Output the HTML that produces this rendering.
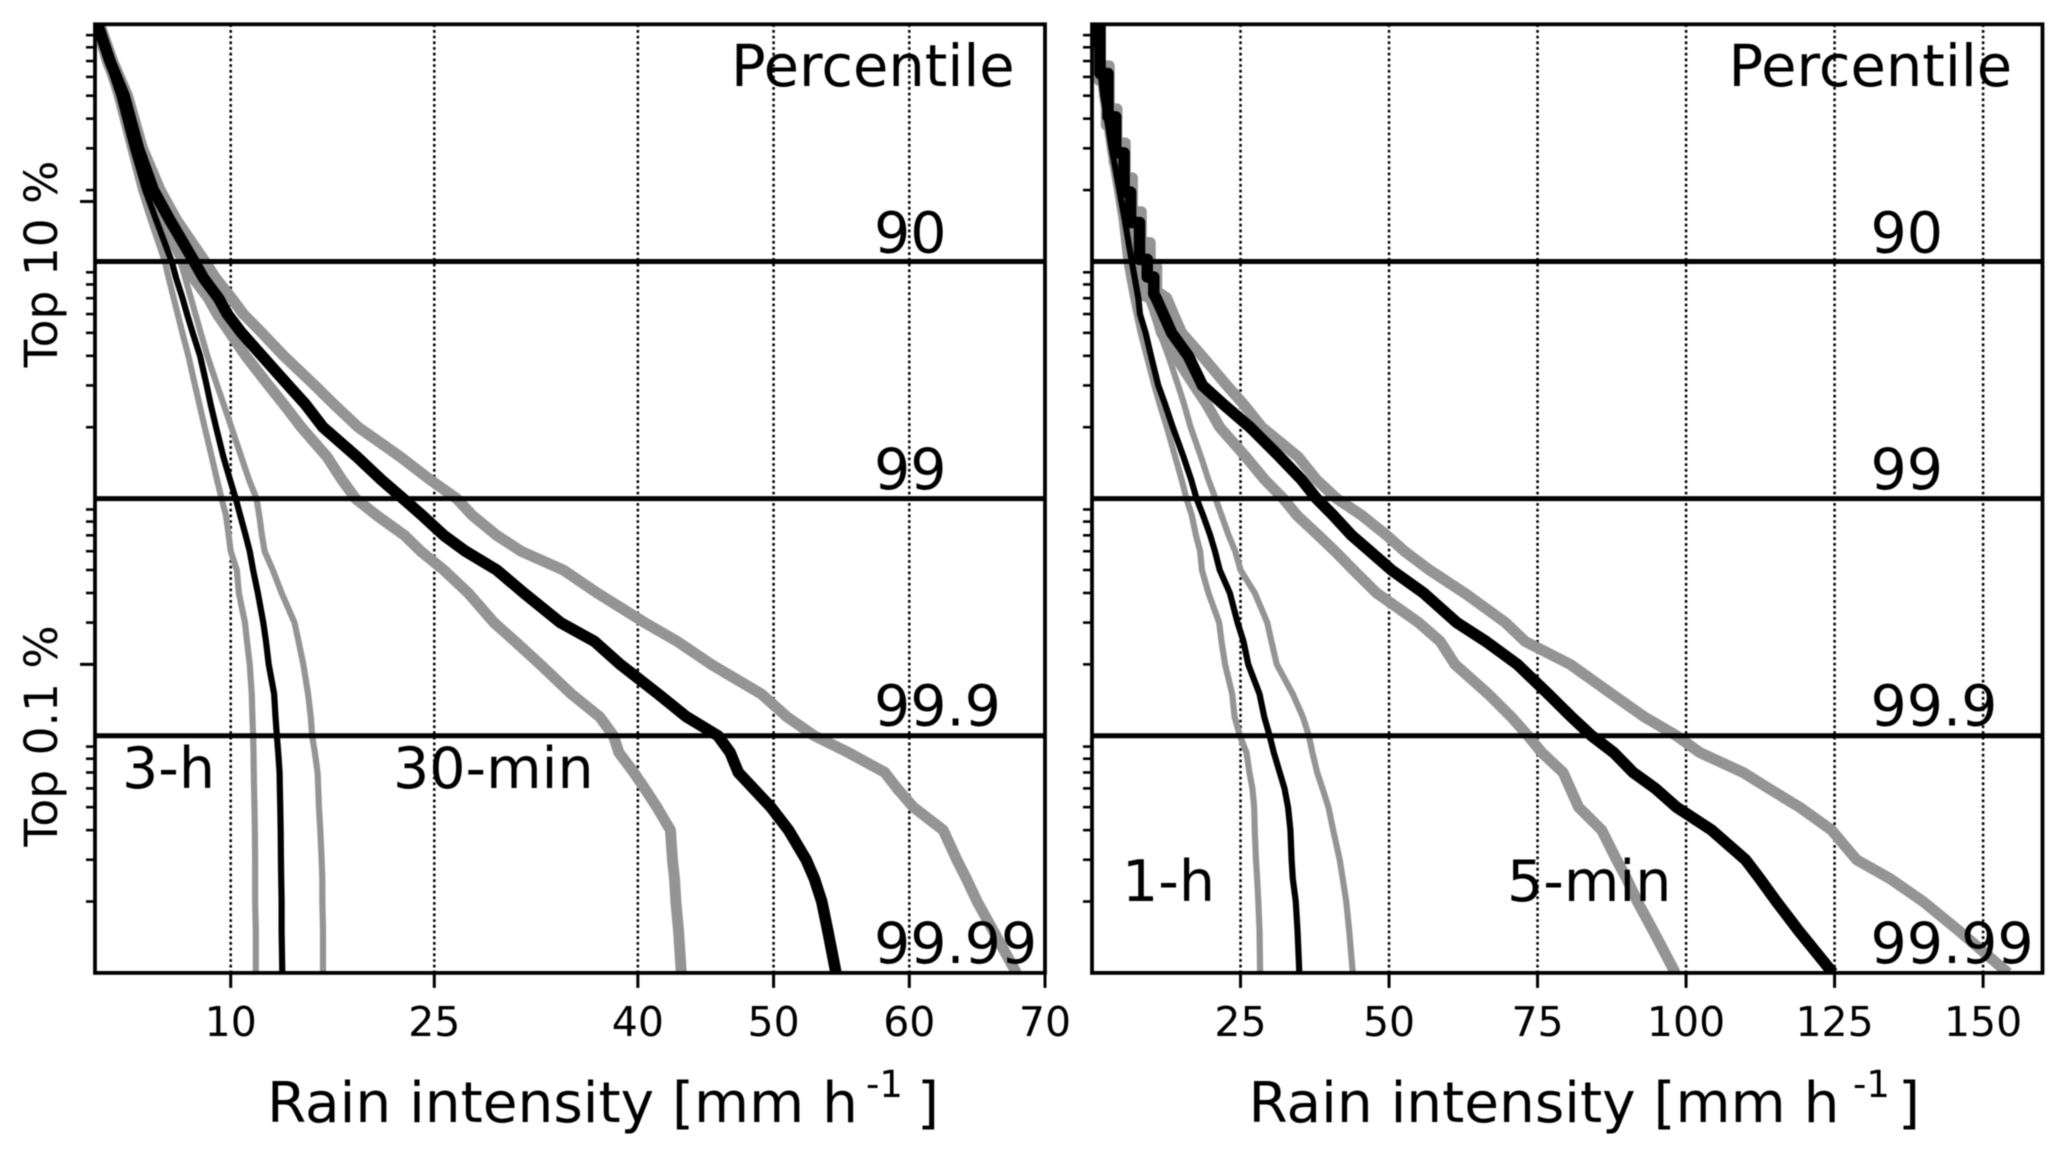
<!DOCTYPE html>
<html lang="en">
<head>
<meta charset="utf-8">
<title>Rain intensity percentile curves</title>
<style>
html,body{margin:0;padding:0;background:#fff;}
svg{display:block;filter:blur(0.5px);}
text{font-family:"DejaVu Sans","Liberation Sans",sans-serif;fill:#000;}
.big{font-size:57px;}
.head{font-size:57.5px;}
.title{font-size:56.5px;}
.tick{font-size:41px;text-anchor:middle;}
.ylab{font-size:45.5px;text-anchor:middle;}
.sup{font-size:37px;}
</style>
</head>
<body>
<svg id="chart" xmlns="http://www.w3.org/2000/svg" width="2067" height="1157" viewBox="0 0 2067 1157">
  <defs>
    <clipPath id="clip-left"><rect x="95" y="24.3" width="950" height="948.6"/></clipPath>
    <clipPath id="clip-right"><rect x="1092" y="24.3" width="950.5" height="948.6"/></clipPath>
  </defs>
  <g id="layer-grid"></g>
  <g id="layer-left" clip-path="url(#clip-left)"></g>
  <g id="layer-right" clip-path="url(#clip-right)"></g>
  <g id="layer-axes"></g>

  <text class="head" x="731" y="86">Percentile</text>
  <text class="big" x="874" y="252.7">90</text>
  <text class="big" x="874" y="489">99</text>
  <text class="big" x="874" y="725.4">99.9</text>
  <text class="big" x="874" y="963">99.99</text>
  <text class="big" x="122" y="788">3-h</text>
  <text class="big" x="393" y="788">30-min</text>

  <text class="head" x="1728.5" y="86">Percentile</text>
  <text class="big" x="1870.5" y="252.7">90</text>
  <text class="big" x="1870.5" y="489">99</text>
  <text class="big" x="1870.5" y="725.4">99.9</text>
  <text class="big" x="1870.5" y="963">99.99</text>
  <text class="big" x="1122" y="901">1-h</text>
  <text class="big" x="1507" y="901">5-min</text>

  <text class="ylab" transform="translate(57,264) rotate(-90)">Top 10 %</text>
  <text class="ylab" transform="translate(57,736) rotate(-90)">Top 0.1 %</text>

  <g>
    <text class="title" x="267" y="1122">Rain intensity [mm h</text>
    <text class="sup" x="866" y="1097">-1</text>
    <text class="title" x="917" y="1122">]</text>
  </g>
  <g>
    <text class="title" x="1248.5" y="1122">Rain intensity [mm h</text>
    <text class="sup" x="1853" y="1097">-1</text>
    <text class="title" x="1898" y="1122">]</text>
  </g>
</svg>
<script>
/* ---------- data ---------- */
const exceedancePct = [100,70,50,30,20,15,10,8.5,7,6,5,4,3,2.5,2,1.5,1.2,1,.85,.7,.6,.5,.4,.3,.25,.2,.15,.12,.1,.085,.07,.06,.05,.04,.03,.025,.02,.015,.01];

const min30Upper  = [.35,1.3,2.4,3.5,4.8,6,8.1,8.9,10.07,10.93,12.3,13.9,16.2,17.6,19.4,22.5,24.7,26.65,27.8,29.6,31.4,34.5,37,40.5,42.9,45.4,49.1,51,53,55.5,58.2,59.1,60.3,62.5,63.5,64.2,65,66.2,67.9];
const min30Median = [.2,1.1,2.15,3.2,4.3,5.5,7.3,8,9.1,9.75,10.8,12.3,14.25,15.5,16.8,19.3,21.1,22.7,24.1,25.7,27.3,29.6,31.6,34.3,36.8,38.7,41.5,43.6,45.9,46.8,47.4,48.5,49.8,51.1,52.4,53,53.55,54,54.6];
const min30Lower  = [.1,.9,1.9,2.9,3.9,4.9,6.5,7.25,8.35,9,9.95,11.1,12.8,13.9,15.2,17.1,18.2,19.2,20.75,22.8,24,25.7,27.5,29.4,30.95,32.8,35.1,37.2,38.2,38.6,39.7,40.5,41.4,42.4,42.55,42.7,42.8,43,43.2];
const h3Upper  = [.2,1.1,2,3,4.1,5,6.3,6.65,7.07,7.4,7.79,8.28,9,9.48,10.05,10.78,11.35,11.9,12.1,12.3,12.5,13.1,13.75,14.7,15,15.35,15.7,15.9,16,16.2,16.4,16.45,16.5,16.6,16.7,16.75,16.75,16.8,16.8];
const h3Median = [.15,.95,1.8,2.8,3.7,4.5,5.65,5.98,6.45,6.78,7.2,7.74,8.23,8.52,8.92,9.46,9.95,10.37,10.7,11.1,11.4,11.65,12,12.4,12.6,12.8,13.2,13.3,13.4,13.5,13.6,13.62,13.65,13.68,13.7,13.72,13.75,13.75,13.8];
const h3Lower  = [.1,.8,1.6,2.6,3.4,4.1,5.15,5.43,5.8,6.09,6.44,6.88,7.37,7.69,8.08,8.6,8.99,9.33,9.65,9.85,10,10.45,10.6,11.05,11.2,11.4,11.55,11.6,11.65,11.68,11.7,11.72,11.75,11.78,11.8,11.8,11.8,11.85,11.85];

const h1Upper  = [.3,1.3,2.1,3.4,4.9,5.8,7.6,8.35,9.5,10.3,11.4,12.85,14.5,15.5,16.6,18.35,19.6,20.8,21.8,23,24.1,25,27.4,29.5,30.2,31.1,33.8,35.5,36.5,37.1,37.9,38.8,39.8,40.6,41.7,42.2,42.8,43.3,43.9];
const h1Median = [.3,1.2,1.9,3.3,4.6,5.5,6.7,7.2,7.8,8.07,9.03,9.93,11.16,12.3,13.6,15.4,16.7,17.6,18.7,19.9,20.7,21.5,23.2,24.5,25.5,26.3,28.2,29,29.9,30.6,31.6,32.4,33,33.4,33.6,33.8,34.3,34.6,34.9];
const h1Lower  = [.2,1,1.7,3,4.2,5,5.8,6.3,6.95,7.5,8.2,9.2,10.5,11.4,12.6,14,15.1,15.9,16.8,17.5,18.2,18.5,19.6,21.4,21.8,22.4,23.6,24,24.9,26,26.5,27,27.3,27.4,27.6,27.8,28,28.2,28.3];

/* the 5-min curves are stepped at low intensity, so each has its own levels */
const min5UpperLevels  = [100,66.8,66.8,44,44,31.6,31.6,22.5,22.5,16.2,16.2,12,12,9.5,9.5,7.5,7,6,5,4,3,2.5,2,1.5,1.2,1,.85,.7,.6,.5,.4,.3,.25,.2,.15,.12,.1,.085,.07,.06,.05,.04,.03,.025,.02,.015,.01];
const min5UpperValues  = [1.4,1.4,2.9,2.9,4.2,4.2,5.6,5.6,6.8,6.8,8.3,8.3,9.8,9.8,10.9,10.9,12.6,13.7,15.1,18.5,22.7,25.5,28.6,34.7,37.8,41.2,45.4,49.6,52.6,56.8,62.7,69.6,72.9,80.5,87.5,93,98.4,102.3,109.6,113.9,119.1,124.5,128.7,134.3,139.9,146,154.2];
const min5MedianLevels = [100,62,62,40.7,40.7,28.7,28.7,19.6,19.6,14.6,14.6,10.2,10.2,8.6,8.6,7.3,7,6,5,4,3,2.5,2,1.5,1.2,1,.85,.7,.6,.5,.4,.3,.25,.2,.15,.12,.1,.085,.07,.06,.05,.04,.03,.025,.02,.015,.01];
const min5MedianValues = [1.35,1.35,2.7,2.7,4,4,5.4,5.4,6.5,6.5,8,8,9.3,9.3,10.4,10.4,10.8,12,13.4,16.2,18.6,22.1,26.6,31.6,35.3,37.8,40.6,43.7,46.8,50.4,55.8,61.4,66.3,71.6,76.8,80.7,84.1,87.8,91.1,94.8,98.4,104.3,110,112.4,115.2,119,124.7];
const min5LowerLevels  = [100,58,58,37.6,37.6,26.3,26.3,18.2,18.2,13,13,9,9,7.2,7,6,5,4,3,2.5,2,1.5,1.2,1,.85,.7,.6,.5,.4,.3,.25,.2,.15,.12,.1,.085,.07,.06,.05,.04,.03,.025,.02,.015,.01];
const min5LowerValues  = [1.2,1.2,2.4,2.4,3.7,3.7,5.1,5.1,6.2,6.2,7.6,7.6,8.6,8.6,9.8,10.8,11.7,14,17.2,19.3,21.5,25.9,29.1,32.2,34.5,38.1,40.9,44,47.9,55,58.6,61.1,66.7,70.6,73.4,75.7,79.3,80.5,81.9,85.8,88.3,90,91.8,94.5,98.2];

const leftTicks  = [10,25,40,50,60,70];
const rightTicks = [25,50,75,100,125,150];
const percentileLinesPct = [10,1,.1];
const minorMantissas = [2,3,4,5,6,7,8,9];
const minorDecades = [10,1,.1,.01];
const majorTicksPct = [17.9,.2];

/* ---------- axis functions ---------- */
const NS = 'http://www.w3.org/2000/svg';
const TOP = 24.3, DECADE = 237.15, BOTTOM = TOP + 4 * DECADE;
const yScale = p => TOP + DECADE * (2 - Math.log10(p));
const xLeft  = v => 95 + v * (950 / 70);
const xRight = v => 1092 + v * (950.5 / 160);

function make(tag, parent) {
  const el = document.createElementNS(NS, tag);
  parent.appendChild(el);
  return el;
}
function drawLine(parent, x1, y1, x2, y2, width) {
  const l = make('line', parent);
  l.setAttribute('x1', x1); l.setAttribute('y1', y1);
  l.setAttribute('x2', x2); l.setAttribute('y2', y2);
  l.setAttribute('stroke', '#000');
  l.setAttribute('stroke-width', width);
  return l;
}
function drawCurve(parent, xFn, levels, values, color, width) {
  const pts = values.map((v, i) => xFn(v).toFixed(2) + ',' + yScale(levels[i]).toFixed(2)).join(' ');
  const c = make('polyline', parent);
  c.setAttribute('points', pts);
  c.setAttribute('fill', 'none');
  c.setAttribute('stroke', color);
  c.setAttribute('stroke-width', width);
  c.setAttribute('stroke-linejoin', 'round');
  return c;
}

const GRAY = '#949494', THICK = 11, THICK_BLACK = 11.5, THIN = 6.2;
const gridLayer = document.getElementById('layer-grid');
const axesLayer = document.getElementById('layer-axes');
const leftLayer = document.getElementById('layer-left');
const rightLayer = document.getElementById('layer-right');

/* ---------- left panel curves ---------- */
let curve;
curve = drawCurve(leftLayer, xLeft, exceedancePct, min30Upper, GRAY, THICK);


curve = drawCurve(leftLayer, xLeft, exceedancePct, min30Lower, GRAY, THICK);


curve = drawCurve(leftLayer, xLeft, exceedancePct, h3Upper, GRAY, THIN);


curve = drawCurve(leftLayer, xLeft, exceedancePct, h3Lower, GRAY, THIN);


curve = drawCurve(leftLayer, xLeft, exceedancePct, min30Median, '#000', THICK_BLACK);


curve = drawCurve(leftLayer, xLeft, exceedancePct, h3Median, '#000', THIN);



/* ---------- right panel curves ---------- */
curve = drawCurve(rightLayer, xRight, min5UpperLevels, min5UpperValues, GRAY, THICK);


curve = drawCurve(rightLayer, xRight, min5LowerLevels, min5LowerValues, GRAY, THICK);


curve = drawCurve(rightLayer, xRight, exceedancePct, h1Upper, GRAY, THIN);


curve = drawCurve(rightLayer, xRight, exceedancePct, h1Lower, GRAY, THIN);


curve = drawCurve(rightLayer, xRight, min5MedianLevels, min5MedianValues, '#000', THICK_BLACK);


curve = drawCurve(rightLayer, xRight, exceedancePct, h1Median, '#000', THIN);



/* ---------- axes ---------- */
function drawPanelAxes(xFn, ticks, panel, x0, x1) {
  ticks.forEach(t => {
    const x = xFn(t);
    if (t !== ticks[ticks.length - 1] || panel === 'right') {
      const g = drawLine(gridLayer, x, TOP, x, BOTTOM, 2.5);
      g.setAttribute('stroke-dasharray', '2.7 3');
      
      
    }
    const tk = drawLine(axesLayer, x, BOTTOM, x, BOTTOM + 15, 3);
    
    
    const lab = make('text', axesLayer);
    lab.setAttribute('class', 'tick');
    lab.setAttribute('x', x);
    lab.setAttribute('y', 1036);
    lab.textContent = t;
    
    
  });
  minorDecades.forEach(dec => {
    minorMantissas.forEach(m => {
      const y = yScale(dec * m);
      const tk = drawLine(axesLayer, x0 - 9, y, x0, y, 2.6);
      
      
    });
  });
  percentileLinesPct.forEach(p => {
    const y = yScale(p);
    const hl = drawLine(axesLayer, x0, y, x1, y, 5);
    
    
  });
  const frame = make('rect', axesLayer);
  frame.setAttribute('x', x0);
  frame.setAttribute('y', TOP);
  frame.setAttribute('width', x1 - x0);
  frame.setAttribute('height', BOTTOM - TOP);
  frame.setAttribute('fill', 'none');
  frame.setAttribute('stroke', '#000');
  frame.setAttribute('stroke-width', 3.8);
  
  
}
drawPanelAxes(xLeft, leftTicks, 'left', 95, 1045);
drawPanelAxes(xRight, rightTicks, 'right', 1092, 2042.5);

majorTicksPct.forEach(p => {
  const y = yScale(p);
  const tk = drawLine(axesLayer, 80, y, 95, y, 3);
  
  
});
</script>
</body>
</html>
